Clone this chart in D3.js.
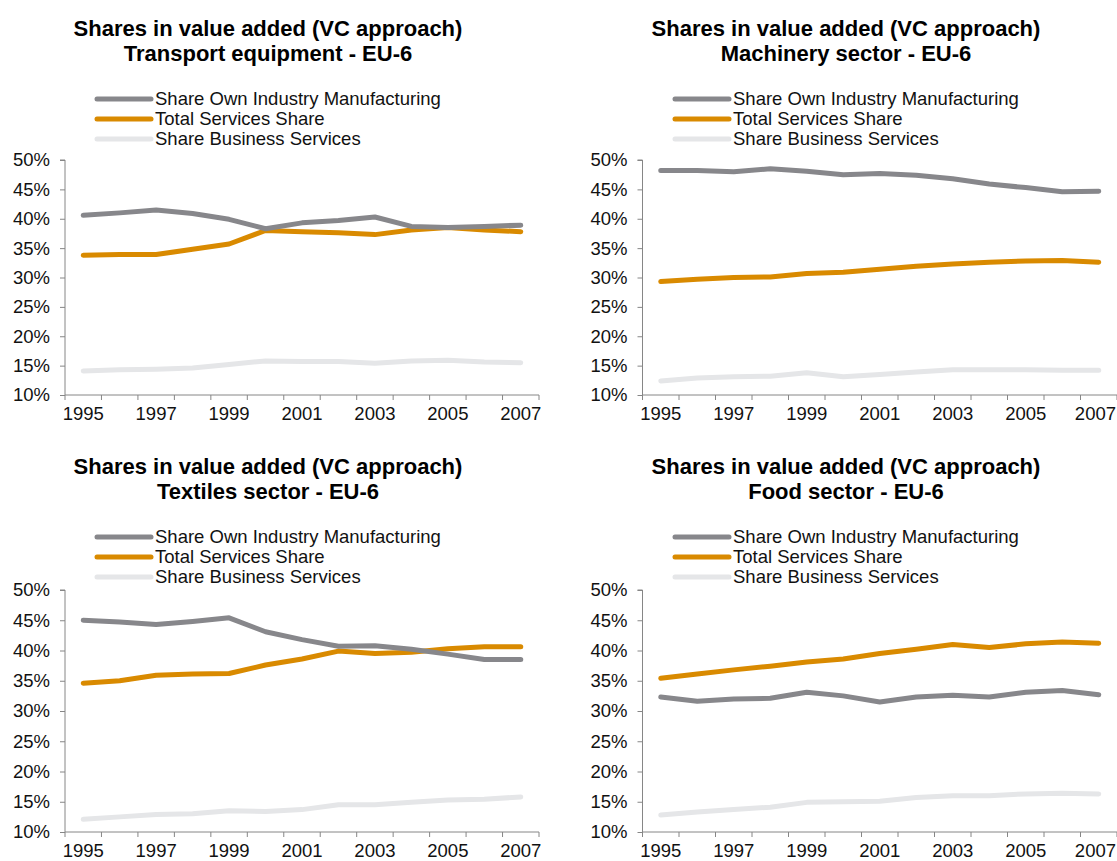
<!DOCTYPE html>
<html><head><meta charset="utf-8">
<script src="https://cdn.jsdelivr.net/npm/d3@7/dist/d3.min.js"></script>
<style>
body{margin:0;background:#fff;}
svg{display:block;font-family:"Liberation Sans",Arial,sans-serif;}
</style></head>
<body>
<svg id="c" width="1117" height="861"></svg>
<script>
const years = ["1995","1996","1997","1998","1999","2000","2001","2002","2003","2004","2005","2006","2007"];
const yTicks = [10,15,20,25,30,35,40,45,50];
const seriesNames = ["Share Own Industry Manufacturing","Total Services Share","Share Business Services"];
const titleLine1 = "Shares in value added (VC approach)";
const panelSubtitles = ["Transport equipment - EU-6","Machinery sector - EU-6","Textiles sector - EU-6","Food sector - EU-6"];

const transportOwn = [40.6,41.0,41.5,40.9,39.9,38.3,39.3,39.7,40.3,38.7,38.5,38.7,38.9];
const transportServ = [33.8,33.9,33.9,34.8,35.7,38.0,37.8,37.6,37.3,38.1,38.5,38.1,37.8];
const transportBus = [14.1,14.3,14.4,14.6,15.2,15.8,15.7,15.7,15.4,15.8,15.9,15.6,15.5];

const machineryOwn = [48.2,48.2,48.0,48.5,48.1,47.5,47.7,47.4,46.8,45.9,45.3,44.6,44.7];
const machineryServ = [29.3,29.7,30.0,30.1,30.7,30.9,31.4,31.9,32.3,32.6,32.8,32.9,32.6];
const machineryBus = [12.4,12.9,13.1,13.2,13.8,13.1,13.5,13.9,14.3,14.3,14.3,14.2,14.2];

const textilesOwn = [45.0,44.7,44.3,44.8,45.4,43.1,41.8,40.7,40.8,40.2,39.4,38.5,38.5];
const textilesServ = [34.6,35.0,35.9,36.1,36.2,37.6,38.6,39.9,39.5,39.7,40.3,40.6,40.6];
const textilesBus = [12.1,12.5,12.9,13.0,13.5,13.4,13.7,14.5,14.5,14.9,15.3,15.4,15.8];

const foodOwn = [32.3,31.6,32.0,32.1,33.1,32.5,31.5,32.3,32.6,32.3,33.1,33.4,32.7];
const foodServ = [35.4,36.1,36.8,37.4,38.1,38.6,39.5,40.2,41.0,40.5,41.1,41.4,41.2];
const foodBus = [12.8,13.3,13.7,14.1,14.9,15.0,15.1,15.7,16.0,16.0,16.3,16.4,16.3];

const colors = ["#87878b","#d98a00","#e5e6e8"];

const panels = [
  {sub: panelSubtitles[0], data:[transportOwn,transportServ,transportBus], x0:65, x1:539, y0:160, y1:395, cx:268, ty:36, lx:97, ly:99},
  {sub: panelSubtitles[1], data:[machineryOwn,machineryServ,machineryBus], x0:642.5, x1:1117, y0:160, y1:395, cx:846, ty:36, lx:675, ly:99},
  {sub: panelSubtitles[2], data:[textilesOwn,textilesServ,textilesBus], x0:65, x1:539, y0:590, y1:832, cx:268, ty:474, lx:97, ly:537},
  {sub: panelSubtitles[3], data:[foodOwn,foodServ,foodBus], x0:642.5, x1:1117, y0:590, y1:832, cx:846, ty:474, lx:675, ly:537}
];

const svg = d3.select("#c");
const axisColor = "#868686";
const fs = "18.5px";
const W = 1117;

panels.forEach(p => {
  const g = svg.append("g");
  g.append("text").attr("x", p.cx).attr("y", p.ty).attr("text-anchor","middle")
    .attr("font-size","22px").attr("font-weight","bold").attr("fill","#000").text(titleLine1);
  g.append("text").attr("x", p.cx).attr("y", p.ty+25).attr("text-anchor","middle")
    .attr("font-size","22px").attr("font-weight","bold").attr("fill","#000").text(p.sub);

  seriesNames.forEach((n,i) => {
    const yy = p.ly + i*20;
    g.append("line").attr("x1", p.lx).attr("x2", p.lx+54).attr("y1", yy).attr("y2", yy)
      .attr("stroke", colors[i]).attr("stroke-width",5).attr("stroke-linecap","round");
    g.append("text").attr("x", p.lx+58).attr("y", yy+6).attr("font-size",fs).attr("fill","#111").text(n);
  });

  const x = d3.scaleBand().domain(years).range([p.x0, p.x1]);
  const y = d3.scaleLinear().domain([10,50]).range([p.y1, p.y0]);

  const ya = g.append("g").attr("transform",`translate(${p.x0},0)`)
    .call(d3.axisLeft(y).tickValues(yTicks).tickFormat(d => d + "%").tickSize(5).tickPadding(10));
  ya.select(".domain").attr("stroke", axisColor).attr("d", `M-5,${y(50)}H0V${y(10)}`);
  ya.selectAll(".tick line").attr("stroke", axisColor);
  ya.selectAll(".tick text").attr("font-size",fs).attr("fill","#111").attr("font-family","Liberation Sans, Arial, sans-serif");

  const xa = g.append("g").attr("transform",`translate(0,${p.y1})`)
    .call(d3.axisBottom(x).tickFormat((d,i) => i % 2 === 0 ? d : "").tickSize(0).tickPadding(12));
  xa.select(".domain").attr("stroke", axisColor).attr("d", `M${p.x0},0H${p.x1}`);
  xa.selectAll(".tick text").attr("font-size",fs).attr("fill","#111").attr("font-family","Liberation Sans, Arial, sans-serif");
  // keep the last label inside the page edge
  xa.selectAll(".tick text").each(function(){
    const bb = this.getBBox();
    const t = d3.select(this.parentNode).attr("transform");
    const tx = +t.match(/translate\(([-\d.]+)/)[1];
    const right = tx + bb.x + bb.width;
    if (right > W - 1) d3.select(this).attr("dx", (W - 1 - right) + "px");
  });
  const edges = years.map(d => x(d)).concat([x(years[years.length-1]) + x.bandwidth()]);
  xa.selectAll("line.edge").data(edges).enter().append("line").attr("class","edge")
    .attr("x1", d => d).attr("x2", d => d).attr("y1",0).attr("y2",5).attr("stroke", axisColor);

  const line = d3.line().x((d,i) => x(years[i]) + x.bandwidth()/2).y(d => y(d));
  [2,1,0].forEach(i => {
    g.append("path").datum(p.data[i]).attr("d", line).attr("fill","none")
      .attr("stroke", colors[i]).attr("stroke-width",5).attr("stroke-linecap","round").attr("stroke-linejoin","round");
  });
});
</script>
</body></html>
